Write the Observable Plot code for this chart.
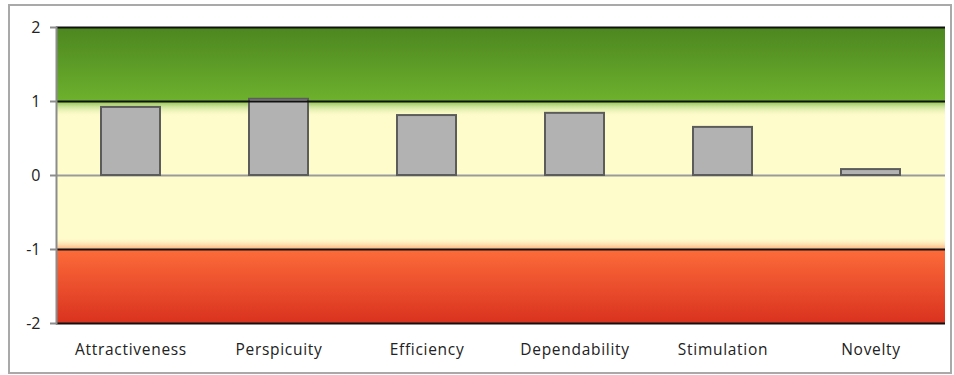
<!DOCTYPE html>
<html>
<head>
<meta charset="utf-8">
<script src="https://cdn.jsdelivr.net/npm/d3@7"></script>
<script src="https://cdn.jsdelivr.net/npm/@observablehq/plot@0.6"></script>
<style>
  body { margin: 0; background: #fff; }
  #wrap { position: relative; width: 954px; height: 375px; }
  #border { position: absolute; left: 8px; top: 4px; width: 940px; height: 366px; border: 2px solid #a9a9a9; pointer-events: none; }
  .xlab text { letter-spacing: 0.7px; }
</style>
</head>
<body>
<div id="wrap"><div id="border"></div></div>
<script>
const categories = ["Attractiveness", "Perspicuity", "Efficiency", "Dependability", "Stimulation", "Novelty"];
const means = [0.92, 1.03, 0.81, 0.84, 0.65, 0.08];
const yTicks = [2, 1, 0, -1, -2];
const thresholds = [2, 1, -1, -2];

const data = categories.map((c, i) => ({category: c, value: means[i]}));

const chart = Plot.plot({
  width: 954,
  height: 375,
  marginLeft: 56,
  marginRight: 9,
  marginTop: 27,
  marginBottom: 52,
  style: {fontFamily: "'Open Sans', sans-serif", background: "transparent"},
  x: {domain: categories, paddingInner: 0.6, paddingOuter: 0.3, label: null},
  y: {domain: [-2, 2], label: null},
  marks: [
    Plot.rect([{a: 1, b: 2}], {y1: "a", y2: "b", fill: "url(#gGreen)"}),
    Plot.rect([{a: -1, b: 1}], {y1: "a", y2: "b", fill: "#fffccc"}),
    Plot.rect([{a: 0.78, b: 1}], {y1: "a", y2: "b", fill: "url(#gFadeG)"}),
    Plot.rect([{a: -1, b: -0.84}], {y1: "a", y2: "b", fill: "url(#gFadeR)"}),
    Plot.rect([{a: -2, b: -1}], {y1: "a", y2: "b", fill: "url(#gRed)"}),
    Plot.ruleY([0], {stroke: "#9a9a9a", strokeWidth: 2}),
    Plot.barY(data, {x: "category", y: "value", fill: "#b2b2b2", stroke: "#5c5c5c", strokeWidth: 2}),
    Plot.ruleY(thresholds, {stroke: "#111", strokeWidth: 2}),
    Plot.frame({anchor: "left", stroke: "#8c8c8c", strokeWidth: 2}),
    Plot.axisY({ticks: yTicks, tickFormat: d => d < 0 ? "-" + Math.abs(d) : String(d), tickSize: 6, tickPadding: 10, stroke: "#8c8c8c", strokeWidth: 2, fontSize: 16, fill: "#222", label: null}),
    Plot.axisX({tickSize: 0, tickPadding: 20, fontSize: 15.5, fill: "#222", label: null, className: "xlab"})
  ]
});

const svg = d3.select(chart);
const defs = svg.insert("defs", ":first-child");
function grad(id, stops) {
  const g = defs.append("linearGradient").attr("id", id).attr("x1", 0).attr("y1", 0).attr("x2", 0).attr("y2", 1);
  stops.forEach(([o, c, op]) => g.append("stop").attr("offset", o).attr("stop-color", c).attr("stop-opacity", op == null ? 1 : op));
}
grad("gGreen", [[0, "#4c8620"], [1, "#6db12d"]]);
grad("gFadeG", [[0, "#8cc04a"], [0.35, "#cde49a"], [1, "#fffccc", 0]]);
grad("gFadeR", [[0, "#fffccc", 0], [1, "#fdb07e"]]);
grad("gRed", [[0, "#fd6c3a"], [1, "#d9321f"]]);

document.getElementById("wrap").prepend(chart);
</script>
</body>
</html>
